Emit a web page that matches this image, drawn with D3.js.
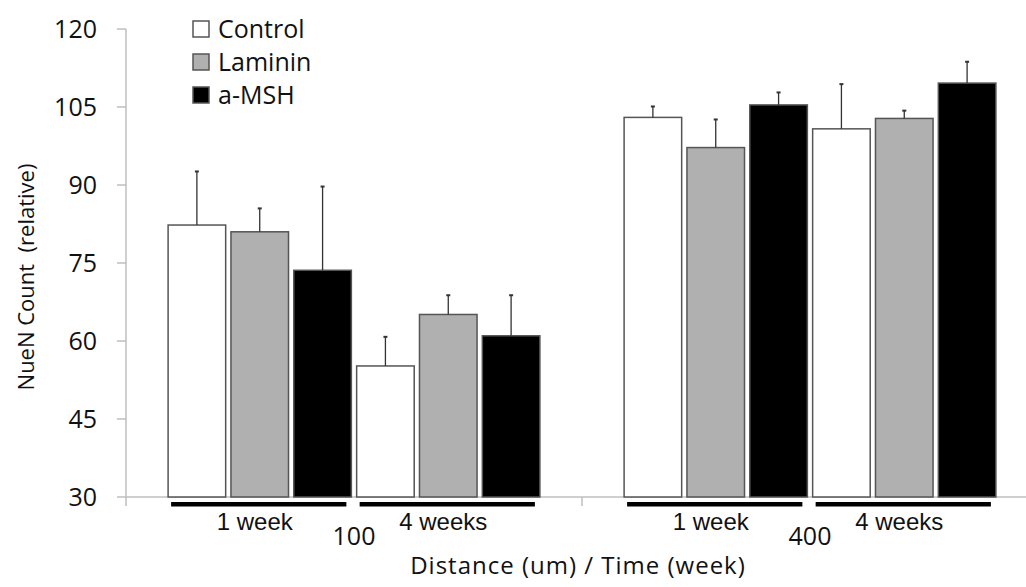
<!DOCTYPE html>
<html>
<head>
<meta charset="utf-8">
<script src="https://cdn.jsdelivr.net/npm/d3@7"></script>
<style>
  body { margin: 0; background: #fff; }
  svg { display: block; }
</style>
</head>
<body>
<div id="chart"></div>
<script>
// Data
const distances = ["100", "400"];
const weeks = ["1 week", "4 weeks"];
const series = ["Control", "Laminin", "a-MSH"];
const yTicks = [30, 45, 60, 75, 90, 105, 120];

// order: 100/1 week, 100/4 weeks, 400/1 week, 400/4 weeks
const controlValues = [82.3, 55.2, 103.0, 100.8];
const lamininValues = [81.0, 65.1, 97.2, 102.8];
const amshValues = [73.6, 61.0, 105.4, 109.6];
const controlErr = [10.3, 5.6, 2.1, 8.6];
const lamininErr = [4.5, 3.7, 5.4, 1.5];
const amshErr = [16.1, 7.8, 2.4, 4.1];

const seriesValues = [controlValues, lamininValues, amshValues];
const seriesErr = [controlErr, lamininErr, amshErr];
const fills = ["#ffffff", "#b0b0b0", "#000000"];

const width = 1026, height = 587;
const plotLeft = 126, plotTop = 29, plotBottom = 497;
const axisColor = "#bfbfbf";
const calibriLike = "'Open Sans', 'Noto Sans', sans-serif";
const arialLike = "'Liberation Sans', Arial, sans-serif";

const svg = d3.select("#chart").append("svg")
  .attr("width", width)
  .attr("height", height);

// Scales
const y = d3.scaleLinear().domain([30, 120]).range([plotBottom, plotTop]);
const x0 = d3.scaleBand().domain(distances).range([plotLeft, plotLeft + 2 * 456]).padding(0);
const slots = [];
weeks.forEach(w => series.forEach(s => slots.push(w + "|" + s)));
const x1 = d3.scaleBand().domain(slots).range([0, x0.bandwidth()])
  .paddingInner(0.084).paddingOuter(0.67);

// Build rows
const rows = [];
distances.forEach((d, di) => {
  weeks.forEach((w, wi) => {
    series.forEach((s, si) => {
      const k = di * 2 + wi;
      rows.push({
        dist: d, week: w, series: s, si: si,
        value: seriesValues[si][k],
        err: seriesErr[si][k]
      });
    });
  });
});

// Y axis
svg.append("line")
  .attr("x1", plotLeft).attr("x2", plotLeft)
  .attr("y1", plotTop).attr("y2", plotBottom + 9)
  .attr("stroke", axisColor).attr("stroke-width", 1.5);

const yAxis = svg.append("g");
yAxis.selectAll("line")
  .data(yTicks)
  .enter()
  .append("line")
  .attr("x1", plotLeft - 9).attr("x2", plotLeft)
  .attr("y1", d => y(d)).attr("y2", d => y(d))
  .attr("stroke", axisColor).attr("stroke-width", 1.5);

yAxis.selectAll("text")
  .data(yTicks)
  .enter()
  .append("text")
  .attr("x", plotLeft - 29)
  .attr("y", d => y(d))
  .attr("dy", "0.36em")
  .attr("text-anchor", "end")
  .style("font-family", calibriLike)
  .style("font-size", "25px")
  .style("fill", "#111")
  .text(d => d);

// X axis
svg.append("line")
  .attr("x1", plotLeft).attr("x2", width)
  .attr("y1", plotBottom).attr("y2", plotBottom)
  .attr("stroke", axisColor).attr("stroke-width", 1.5);

svg.append("g").selectAll("line")
  .data(distances.slice(1))
  .enter()
  .append("line")
  .attr("x1", d => x0(d)).attr("x2", d => x0(d))
  .attr("y1", plotBottom).attr("y2", plotBottom + 9)
  .attr("stroke", axisColor).attr("stroke-width", 1.5);

// Bars
const barX = d => x0(d.dist) + x1(d.week + "|" + d.series);

svg.append("g").selectAll("rect")
  .data(rows)
  .enter()
  .append("rect")
  .attr("x", barX)
  .attr("y", d => y(d.value))
  .attr("width", x1.bandwidth())
  .attr("height", d => y(30) - y(d.value))
  .attr("fill", d => fills[d.si])
  .attr("stroke", "#555")
  .attr("stroke-width", 1.5);

// Error bars (upper only)
const errG = svg.append("g");
errG.selectAll("line.err")
  .data(rows)
  .enter()
  .append("line")
  .attr("class", "err")
  .attr("x1", d => barX(d) + x1.bandwidth() / 2)
  .attr("x2", d => barX(d) + x1.bandwidth() / 2)
  .attr("y1", d => y(d.value))
  .attr("y2", d => y(d.value + d.err))
  .attr("stroke", "#333")
  .attr("stroke-width", 1.3);

errG.selectAll("line.cap")
  .data(rows)
  .enter()
  .append("line")
  .attr("class", "cap")
  .attr("x1", d => barX(d) + x1.bandwidth() / 2 - 2)
  .attr("x2", d => barX(d) + x1.bandwidth() / 2 + 2)
  .attr("y1", d => y(d.value + d.err))
  .attr("y2", d => y(d.value + d.err))
  .attr("stroke", "#333")
  .attr("stroke-width", 2);

// Week underlines and labels
const weekGroups = [];
distances.forEach(d => weeks.forEach(w => weekGroups.push({ dist: d, week: w })));

const weekStart = g => x0(g.dist) + x1(g.week + "|" + series[0]) + 3;
const weekEnd = g => x0(g.dist) + x1(g.week + "|" + series[series.length - 1]) + x1.bandwidth() - 5;

svg.append("g").selectAll("rect")
  .data(weekGroups)
  .enter()
  .append("rect")
  .attr("x", weekStart)
  .attr("y", plotBottom + 5)
  .attr("width", g => weekEnd(g) - weekStart(g))
  .attr("height", 4.5)
  .attr("fill", "#000");

svg.append("g").selectAll("text")
  .data(weekGroups)
  .enter()
  .append("text")
  .attr("x", g => (weekStart(g) + weekEnd(g)) / 2 - 4)
  .attr("y", 530)
  .attr("text-anchor", "middle")
  .style("font-family", arialLike)
  .style("font-size", "24px")
  .style("fill", "#111")
  .text(g => g.week);

// Distance labels
svg.append("g").selectAll("text")
  .data(distances)
  .enter()
  .append("text")
  .attr("x", d => x0(d) + x0.bandwidth() / 2)
  .attr("y", 545)
  .attr("text-anchor", "middle")
  .style("font-family", calibriLike)
  .style("font-size", "25px")
  .style("fill", "#111")
  .text(d => d);

// Axis titles
svg.append("text")
  .attr("x", 578)
  .attr("y", 574)
  .attr("text-anchor", "middle")
  .style("font-family", calibriLike)
  .style("font-size", "24px")
  .style("letter-spacing", "1px")
  .style("fill", "#111")
  .text("Distance (um) / Time (week)");

svg.append("text")
  .attr("transform", "translate(26,277) rotate(-90)")
  .attr("dy", "0.35em")
  .attr("text-anchor", "middle")
  .style("font-family", calibriLike)
  .style("font-size", "22px")
  .style("white-space", "pre")
  .style("fill", "#111")
  .text("NueN Count  (relative)");

// Legend
const legend = svg.append("g").attr("transform", "translate(193,21)");
const item = legend.selectAll("g")
  .data(series)
  .enter()
  .append("g")
  .attr("transform", (d, i) => "translate(0," + (i * 33) + ")");

item.append("rect")
  .attr("width", 16).attr("height", 16)
  .attr("fill", (d, i) => fills[i])
  .attr("stroke", "#555")
  .attr("stroke-width", 1.5);

item.append("text")
  .attr("x", 25)
  .attr("y", 8)
  .attr("dy", "0.36em")
  .style("font-family", calibriLike)
  .style("font-size", "25px")
  .style("fill", "#111")
  .text(d => d);
</script>
</body>
</html>
